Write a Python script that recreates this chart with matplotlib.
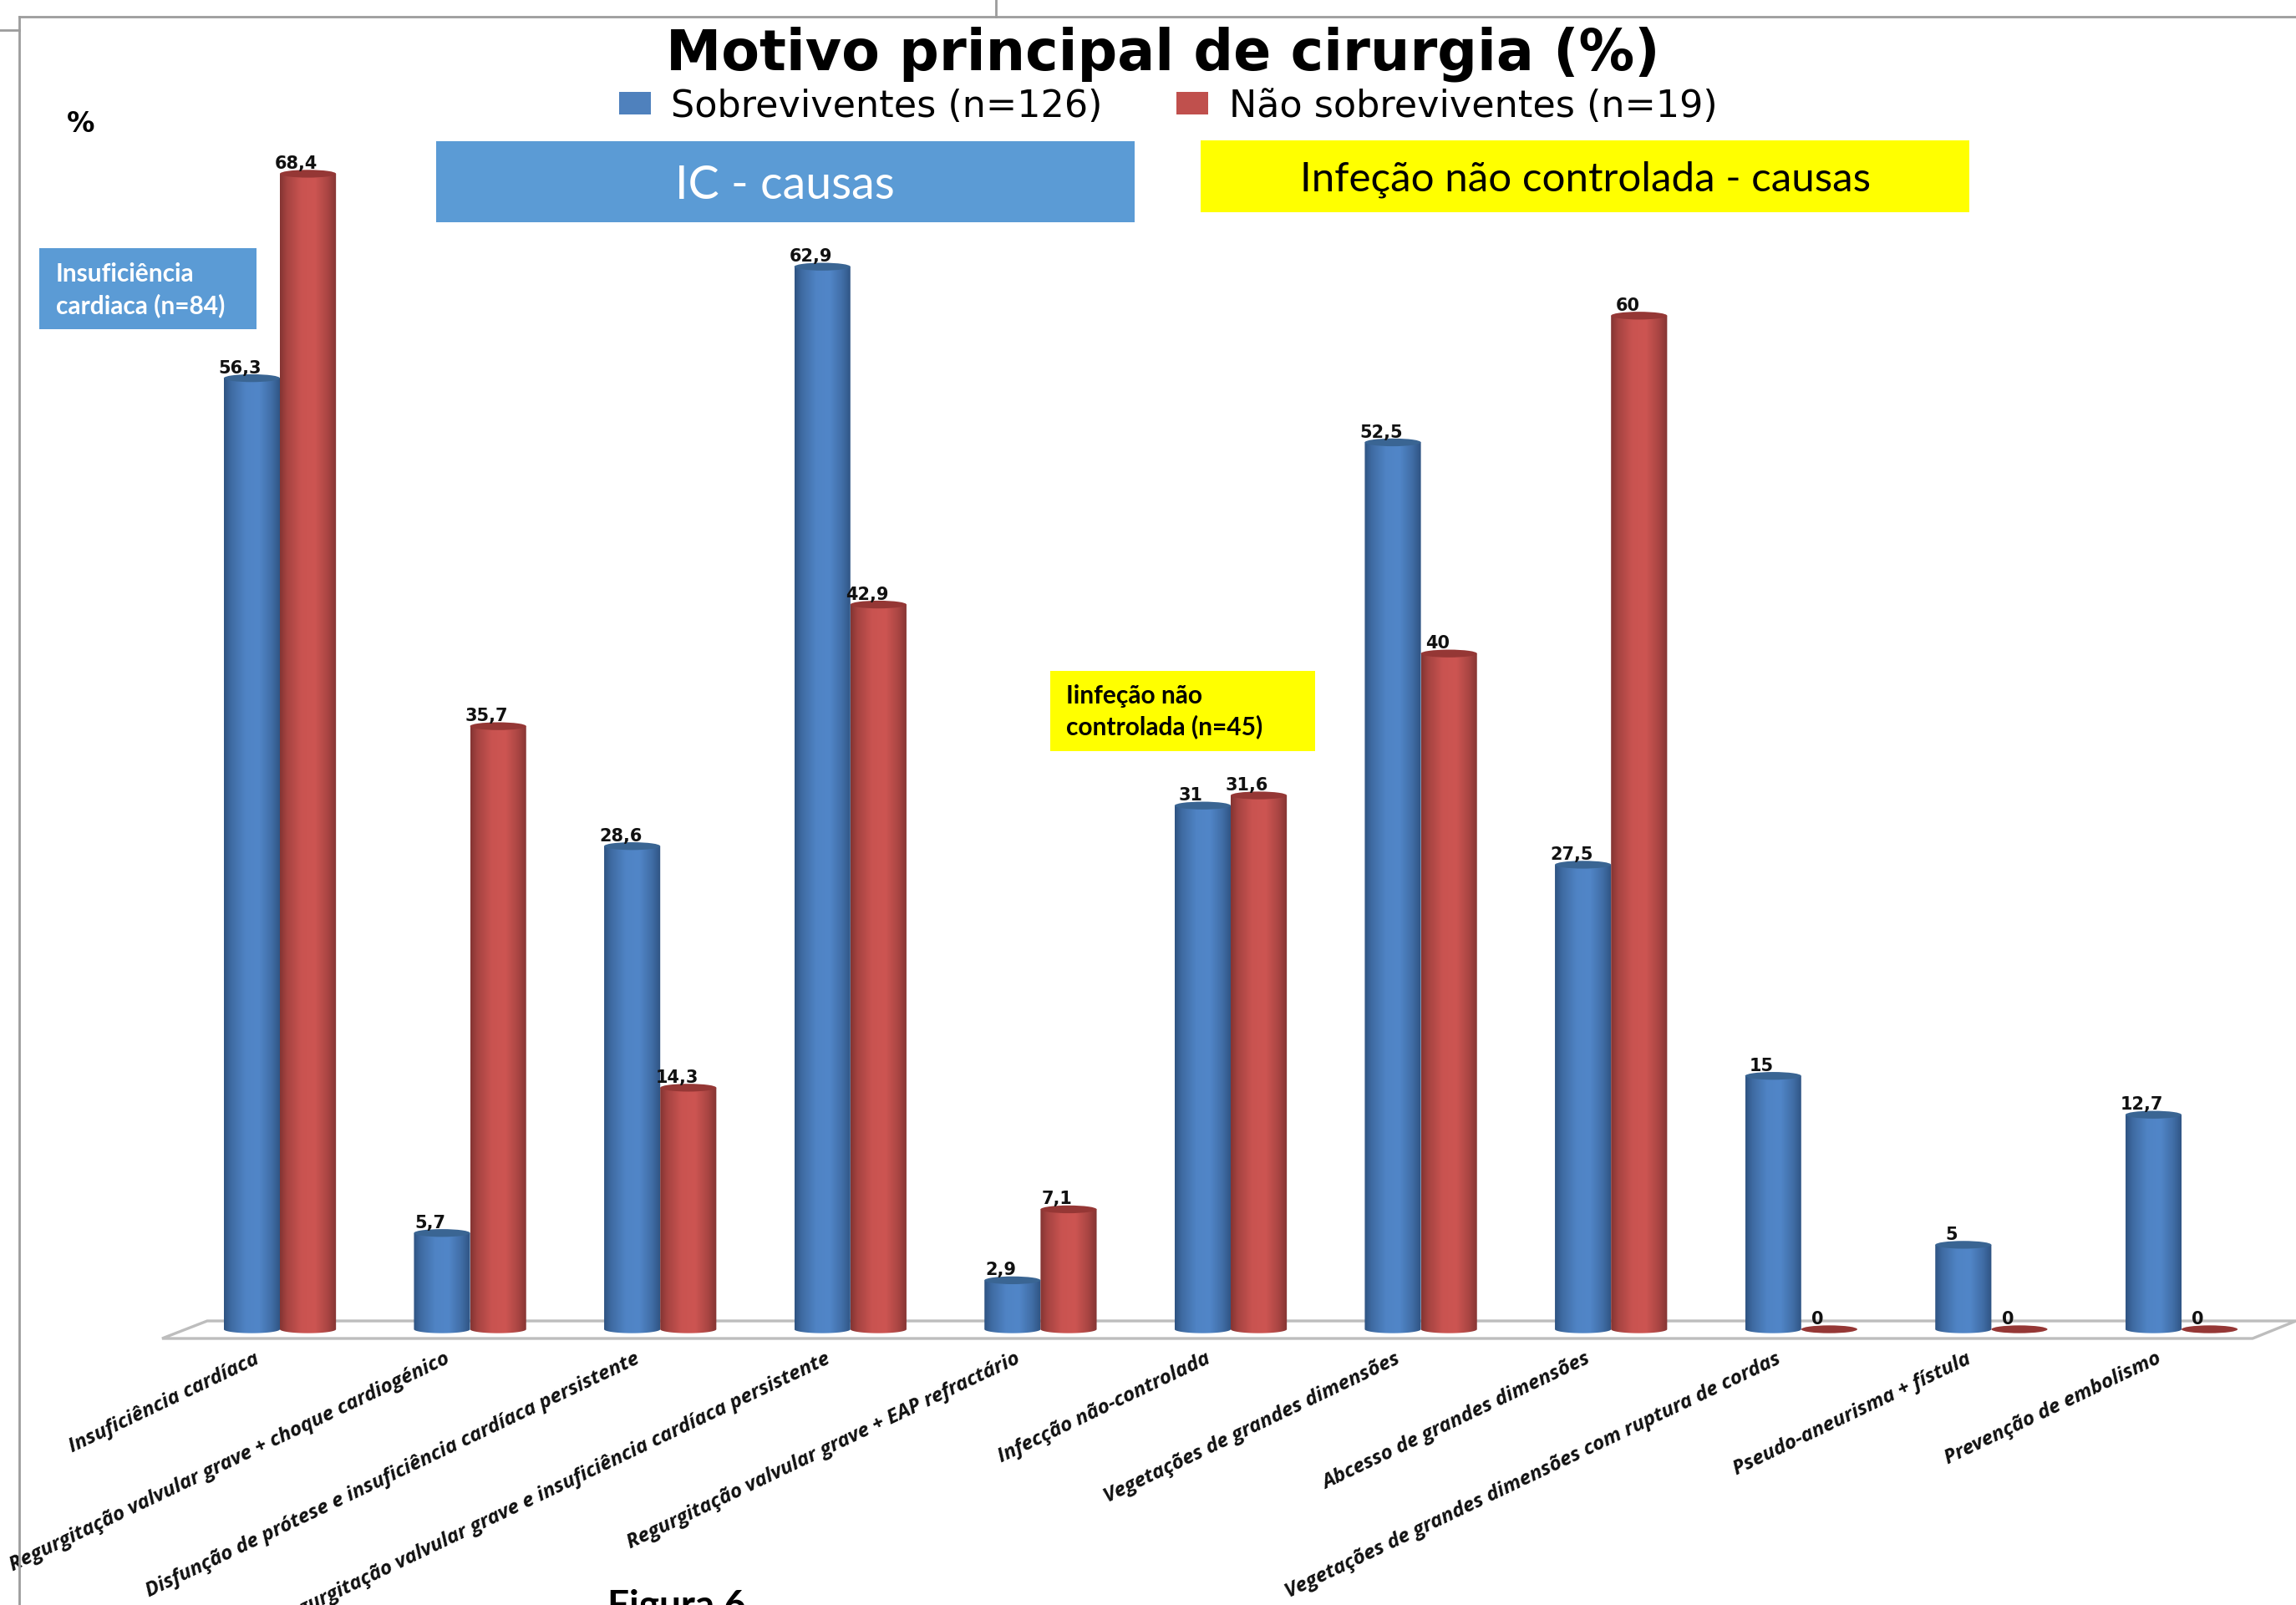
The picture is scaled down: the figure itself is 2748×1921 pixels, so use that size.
import numpy as np
import matplotlib
matplotlib.use("Agg")
import matplotlib.pyplot as plt
from matplotlib.patches import Ellipse, Patch, PathPatch, Polygon, Rectangle
from matplotlib.path import Path
from matplotlib.lines import Line2D
from matplotlib.transforms import ScaledTranslation

categories = [
    "Insuficiência cardíaca",
    "Regurgitação valvular grave + choque cardiogénico",
    "Disfunção de prótese e insuficiência cardíaca persistente",
    "Regurgitação valvular grave e insuficiência cardíaca persistente",
    "Regurgitação valvular grave + EAP refractário",
    "Infecção não-controlada",
    "Vegetações de grandes dimensões",
    "Abcesso de grandes dimensões",
    "Vegetações de grandes dimensões com ruptura de cordas",
    "Pseudo-aneurisma + fístula",
    "Prevenção de embolismo",
]
sobreviventes = [56.3, 5.7, 28.6, 62.9, 2.9, 31, 52.5, 27.5, 15, 5, 12.7]
nao_sobreviventes = [68.4, 35.7, 14.3, 42.9, 7.1, 31.6, 40, 60, 0, 0, 0]
series_names = ["Sobreviventes (n=126)", "Não sobreviventes (n=19)"]

W, H = 2748, 1921
DPI = 100
BAR_W = 0.295
CAP_RY = 0.23
PX_PER_CAT = 227.6
PX_PER_UNIT = 20.22
X0_PX, Y0_PX = 335, 1591

fig = plt.figure(figsize=(W / DPI, H / DPI), dpi=DPI, facecolor="white")


def fx(x):
    return x / W


def fy(y):
    return 1 - y / H


# Plot area spans the front edge of the floor; limits keep 1 category = 227.6 px
left_px, right_px, bottom_px, top_px = 194, 2696, 1602, 100
ax = fig.add_axes([fx(left_px), fy(bottom_px), (right_px - left_px) / W, (bottom_px - top_px) / H])
xlim = ((left_px - X0_PX) / PX_PER_CAT, (right_px - X0_PX) / PX_PER_CAT)
ylim = ((Y0_PX - bottom_px) / PX_PER_UNIT, (Y0_PX - top_px) / PX_PER_UNIT)
ax.patch.set_alpha(0)
for s in ax.spines.values():
    s.set_visible(False)
ax.yaxis.set_visible(False)


def shade(mid, dark):
    """Horizontal cylinder shading: dark rims, lit band right of centre."""
    pos = np.linspace(0, 1, 64)
    stops = [0, 0.12, 0.38, 0.62, 0.85, 1]
    weights = [1, 0.55, 0.05, 0, 0.5, 1]
    w = np.interp(pos, stops, weights)[None, :, None]
    return (1 - w) * np.array(matplotlib.colors.to_rgb(mid)) + w * np.array(matplotlib.colors.to_rgb(dark))


def cylinder(xc, value, mid, dark, cap):
    if value > 0:
        t = np.linspace(np.pi, 2 * np.pi, 40)
        xs = np.r_[xc + BAR_W / 2 * np.cos(t), xc + BAR_W / 2, xc - BAR_W / 2]
        ys = np.r_[CAP_RY * np.sin(t), value, value]
        outline = PathPatch(Path(np.c_[xs, ys]), transform=ax.transData, fc="none", ec="none")
        ax.add_patch(outline)
        im = ax.imshow(shade(mid, dark), extent=[xc - BAR_W / 2, xc + BAR_W / 2, -CAP_RY, value],
                       aspect="auto", interpolation="bilinear", zorder=3)
        im.set_clip_path(outline)
    ax.add_patch(Ellipse((xc, value), BAR_W, 2 * CAP_RY, fc=cap, ec="none", zorder=3.1))


x = np.arange(len(categories))
for i in x:
    cylinder(i - BAR_W / 2, sobreviventes[i], "#5186C8", "#2F5483", "#3A6593")
for i in x:
    cylinder(i + BAR_W / 2, nao_sobreviventes[i], "#CD5552", "#853533", "#953735")


def fmt(v):
    return f"{v:g}".replace(".", ",")


for i in x:
    for xc, v in ((i - BAR_W / 2, sobreviventes[i]), (i + BAR_W / 2, nao_sobreviventes[i])):
        ax.annotate(fmt(v), (xc, v), xytext=(-10, 8.6), textcoords="offset points",
                    ha="center", va="center", fontsize=15, fontweight="bold",
                    family="DejaVu Sans", color="#111111", zorder=5)

ax.set_xlim(xlim)
ax.set_ylim(ylim)

# Category labels, slanted and anchored at their upper right end
ax.set_xticks(x)
ax.set_xticklabels(categories, rotation=25.5, ha="right", va="top", rotation_mode="anchor",
                   fontsize=17.5, fontstyle="italic", fontweight="bold", family="Open Sans", color="#111111")
ax.tick_params(axis="x", length=0, pad=9)
shift = ScaledTranslation(-31 / DPI, 0, fig.dpi_scale_trans)
for lab in ax.get_xticklabels():
    lab.set_transform(lab.get_transform() + shift)

# Floor of the chart
floor = [(194, 1602), (248, 1581), (2748, 1581), (2696, 1602)]
fig.add_artist(Polygon([(fx(a), fy(b)) for a, b in floor], closed=True, transform=fig.transFigure,
                       fc="white", ec="#BDBDBD", lw=2.4, zorder=-1))

# Outer frame and the stubs around it
for xs, ys in (([23, 23], [20, H]), ([23, W], [20, 20]), ([0, 23], [36, 36]), ([1192, 1192], [0, 20])):
    fig.add_artist(Line2D([fx(a) for a in xs], [fy(b) for b in ys], color="#9C9C9C", lw=2,
                          transform=fig.transFigure))

fig.text(fx(1392), fy(65), "Motivo principal de cirurgia (%)", ha="center", va="center",
         fontsize=48, fontweight="bold", family="DejaVu Sans", color="black")
fig.text(fx(97), fy(148), "%", ha="center", va="center", fontsize=24, fontweight="bold",
         family="DejaVu Sans", color="black")

handles = [Patch(fc="#4F81BD", ec="none"), Patch(fc="#C0504D", ec="none")]
fig.legend(handles, series_names, loc="center", bbox_to_anchor=(fx(1398), fy(127)), ncol=2, frameon=False,
           handlelength=0.85, handleheight=0.55, handletextpad=0.55, columnspacing=2.0,
           prop={"family": "DejaVu Sans", "size": 32})


def box(x0, y0, x1, y1, color):
    fig.add_artist(Rectangle((fx(x0), fy(y1)), (x1 - x0) / W, (y1 - y0) / H, transform=fig.transFigure,
                             fc=color, ec="none", zorder=4))


BLUE, YELLOW = "#5B9BD5", "#FFFF00"
box(522, 169, 1358, 266, BLUE)
box(1437, 168, 2357, 254, YELLOW)
box(47, 297, 307, 394, BLUE)
box(1257, 803, 1574, 899, YELLOW)

fig.text(fx(939), fy(222), "IC - causas", ha="center", va="center", fontsize=40, family="Lato",
         color="white", zorder=6)
fig.text(fx(1898), fy(215), "Infeção não controlada - causas", ha="center", va="center", fontsize=35.5,
         family="Lato", color="black", zorder=6)
fig.text(fx(67), fy(328), "Insuficiência", ha="left", va="center", fontsize=21.5, fontweight="bold",
         family="Lato", color="white", zorder=6)
fig.text(fx(67), fy(366), "cardiaca (n=84)", ha="left", va="center", fontsize=21.5, fontweight="bold",
         family="Lato", color="white", zorder=6)
fig.text(fx(1276), fy(833), "Iinfeção não", ha="left", va="center", fontsize=21.5, fontweight="bold",
         family="Lato", color="black", zorder=6)
fig.text(fx(1276), fy(870), "controlada (n=45)", ha="left", va="center", fontsize=21.5, fontweight="bold",
         family="Lato", color="black", zorder=6)
fig.text(fx(727), fy(1902), "Figura 6", ha="left", va="top", fontsize=33, fontweight="bold",
         family="Lato", color="black", zorder=6)

fig.savefig("out.png", dpi=DPI, facecolor="white")
